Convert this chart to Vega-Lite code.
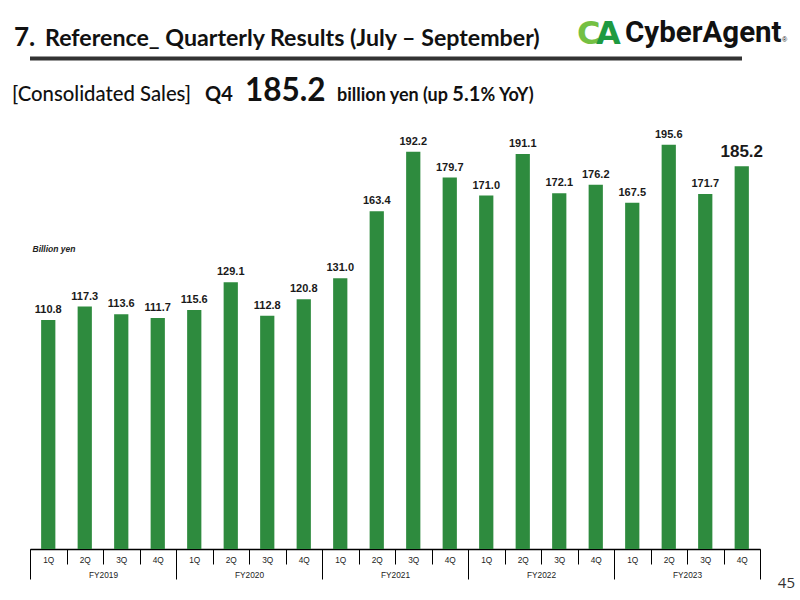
{
  "$schema": "https://vega.github.io/schema/vega-lite/v6.json",
  "width": 730,
  "height": 549,
  "autosize": {"type": "none"},
  "padding": {"left": 30, "top": 0, "right": 40, "bottom": 51},
  "background": "#ffffff",
  "config": {"view": {"stroke": null}},
  "datasets": {
    "sales": [
      {"period": "FY2019 1Q", "fy": "FY2019", "value": 110.8},
      {"period": "FY2019 2Q", "fy": "FY2019", "value": 117.3},
      {"period": "FY2019 3Q", "fy": "FY2019", "value": 113.6},
      {"period": "FY2019 4Q", "fy": "FY2019", "value": 111.7},
      {"period": "FY2020 1Q", "fy": "FY2020", "value": 115.6},
      {"period": "FY2020 2Q", "fy": "FY2020", "value": 129.1},
      {"period": "FY2020 3Q", "fy": "FY2020", "value": 112.8},
      {"period": "FY2020 4Q", "fy": "FY2020", "value": 120.8},
      {"period": "FY2021 1Q", "fy": "FY2021", "value": 131.0},
      {"period": "FY2021 2Q", "fy": "FY2021", "value": 163.4},
      {"period": "FY2021 3Q", "fy": "FY2021", "value": 192.2},
      {"period": "FY2021 4Q", "fy": "FY2021", "value": 179.7},
      {"period": "FY2022 1Q", "fy": "FY2022", "value": 171.0},
      {"period": "FY2022 2Q", "fy": "FY2022", "value": 191.1},
      {"period": "FY2022 3Q", "fy": "FY2022", "value": 172.1},
      {"period": "FY2022 4Q", "fy": "FY2022", "value": 176.2},
      {"period": "FY2023 1Q", "fy": "FY2023", "value": 167.5},
      {"period": "FY2023 2Q", "fy": "FY2023", "value": 195.6},
      {"period": "FY2023 3Q", "fy": "FY2023", "value": 171.7},
      {"period": "FY2023 4Q", "fy": "FY2023", "value": 185.2}
    ]
  },
  "layer": [
    {
      "layer": [
        {
          "data": {"name": "sales"},
          "mark": {"type": "bar", "width": {"band": 0.39}, "color": "#2e8b3e"},
          "encoding": {
            "x": {
              "field": "period", "type": "nominal", "sort": null,
              "scale": {"paddingInner": 0, "paddingOuter": 0},
              "axis": {
                "title": null,
                "labelExpr": "split(datum.value, ' ')[1]",
                "labelAngle": 0,
                "tickBand": "extent",
                "tickSize": 15,
                "tickColor": "#000000",
                "tickWidth": 1,
                "domainColor": "#000000",
                "domainWidth": 1.5,
                "labelFont": "Liberation Sans",
                "labelFontSize": 8.3,
                "labelColor": "#222222",
                "labelPadding": -9,
                "labelBaseline": "top"
              }
            },
            "y": {
              "field": "value", "type": "quantitative",
              "scale": {"domain": [0, 265.6], "nice": false, "zero": true},
              "axis": {
                "domain": false, "ticks": false, "labels": false, "grid": false,
                "title": "Billion yen",
                "titleAngle": 0,
                "titleX": 2,
                "titleY": 248,
                "titleAlign": "left",
                "titleBaseline": "middle",
                "titleFont": "Liberation Sans",
                "titleFontStyle": "italic",
                "titleFontWeight": "bold",
                "titleFontSize": 8.5,
                "titleColor": "#222222"
              }
            }
          }
        },
        {
          "data": {"name": "sales"},
          "transform": [{"filter": "datum.period != 'FY2023 4Q'"}],
          "mark": {"type": "text", "baseline": "alphabetic", "dy": -7, "font": "Liberation Sans", "fontWeight": "bold", "fontSize": 11, "color": "#1a1a1a"},
          "encoding": {
            "x": {"field": "period", "type": "nominal", "sort": null},
            "y": {"field": "value", "type": "quantitative"},
            "text": {"field": "value", "type": "quantitative", "format": ".1f"}
          }
        },
        {
          "data": {"name": "sales"},
          "transform": [{"filter": "datum.period == 'FY2023 4Q'"}],
          "mark": {"type": "text", "baseline": "alphabetic", "dy": -9.5, "font": "Liberation Sans", "fontWeight": "bold", "fontSize": 17, "color": "#1a1a1a"},
          "encoding": {
            "x": {"field": "period", "type": "nominal", "sort": null},
            "y": {"field": "value", "type": "quantitative"},
            "text": {"field": "value", "type": "quantitative", "format": ".1f"}
          }
        },
        {
          "data": {"values": [{}]},
          "mark": {"type": "text", "text": "7.", "align": "left", "baseline": "alphabetic", "dx": -34.25, "font": "Lato", "fontSize": 26, "fontWeight": "bold", "color": "#111111"},
          "encoding": {"x": {"datum": "FY2019 1Q"}, "y": {"datum": 243.3}}
        },
        {
          "data": {"values": [{}]},
          "mark": {"type": "text", "text": "Reference_ Quarterly Results (July – September)", "align": "left", "baseline": "alphabetic", "dx": -3.25, "font": "Lato", "fontSize": 23.2, "fontWeight": "bold", "color": "#111111"},
          "encoding": {"x": {"datum": "FY2019 1Q"}, "y": {"datum": 243.3}}
        },
        {
          "data": {"values": [{}]},
          "mark": {"type": "rule", "strokeWidth": 4, "color": "#333333", "xOffset": -18, "x2Offset": 30},
          "encoding": {"y": {"datum": 237.3}}
        },
        {
          "data": {"values": [{}]},
          "mark": {"type": "text", "text": "[Consolidated Sales]", "align": "left", "baseline": "alphabetic", "dx": -36.25, "font": "Lato", "fontSize": 20.3, "fontWeight": 500, "color": "#111111"},
          "encoding": {"x": {"datum": "FY2019 1Q"}, "y": {"datum": 216.7}}
        },
        {
          "data": {"values": [{}]},
          "mark": {"type": "text", "text": "Q4", "align": "left", "baseline": "alphabetic", "dx": 10.75, "font": "Lato", "fontSize": 20, "fontWeight": "bold", "color": "#111111"},
          "encoding": {"x": {"datum": "FY2020 1Q"}, "y": {"datum": 216.7}}
        },
        {
          "data": {"values": [{}]},
          "mark": {"type": "text", "text": "185.2", "align": "left", "baseline": "alphabetic", "dx": 14.25, "font": "Lato", "fontSize": 31.5, "fontWeight": "bold", "color": "#111111"},
          "encoding": {"x": {"datum": "FY2020 2Q"}, "y": {"datum": 216.7}}
        },
        {
          "data": {"values": [{}]},
          "mark": {"type": "text", "text": "billion yen (up", "align": "left", "baseline": "alphabetic", "dx": -3.25, "font": "Lato", "fontSize": 18, "fontWeight": "bold", "color": "#111111"},
          "encoding": {"x": {"datum": "FY2021 1Q"}, "y": {"datum": 216.7}}
        },
        {
          "data": {"values": [{}]},
          "mark": {"type": "text", "text": "5.1", "align": "right", "baseline": "alphabetic", "dx": 30.5, "font": "Lato", "fontSize": 20, "fontWeight": "bold", "color": "#111111"},
          "encoding": {"x": {"datum": "FY2021 4Q"}, "y": {"datum": 216.7}}
        },
        {
          "data": {"values": [{}]},
          "mark": {"type": "text", "text": "% YoY)", "align": "left", "baseline": "alphabetic", "dx": -5.75, "font": "Lato", "fontSize": 18, "fontWeight": "bold", "color": "#111111"},
          "encoding": {"x": {"datum": "FY2022 1Q"}, "y": {"datum": 216.7}}
        },
        {
          "data": {"values": [{}]},
          "mark": {"type": "text", "text": "C", "align": "left", "baseline": "alphabetic", "dx": -18.75, "font": "DejaVu Sans", "fontSize": 32, "fontWeight": "bold", "color": "#74c043"},
          "encoding": {"x": {"datum": "FY2022 4Q"}, "y": {"datum": 244.3}}
        },
        {
          "data": {"values": [{}]},
          "mark": {"type": "text", "text": "A", "align": "left", "baseline": "alphabetic", "dx": 0.25, "font": "DejaVu Sans", "fontSize": 32, "fontWeight": "bold", "color": "#1e9a40"},
          "encoding": {"x": {"datum": "FY2022 4Q"}, "y": {"datum": 244.3}}
        },
        {
          "data": {"values": [{}]},
          "mark": {"type": "text", "text": "CyberAgent", "align": "left", "baseline": "alphabetic", "dx": -7.25, "font": "Roboto", "fontSize": 29.5, "fontWeight": "bold", "color": "#111111"},
          "encoding": {"x": {"datum": "FY2023 1Q"}, "y": {"datum": 245.3}}
        },
        {
          "data": {"values": [{}]},
          "mark": {"type": "text", "text": "®", "align": "left", "baseline": "alphabetic", "dx": 40.25, "font": "Liberation Sans", "fontSize": 7, "color": "#111111"},
          "encoding": {"x": {"datum": "FY2023 4Q"}, "y": {"datum": 245.3}}
        },
        {
          "data": {"values": [{}]},
          "mark": {"type": "text", "text": "45", "align": "right", "baseline": "alphabetic", "dx": 53.25, "font": "Open Sans", "fontSize": 15, "color": "#333333"},
          "encoding": {"x": {"datum": "FY2023 4Q"}, "y": {"datum": -18.9}}
        }
      ]
    },
    {
      "data": {"name": "sales"},
      "mark": {"type": "point", "opacity": 0},
      "encoding": {
        "x": {
          "field": "fy", "type": "nominal",
          "scale": {"paddingInner": 0, "paddingOuter": 0},
          "axis": {
            "title": null,
            "orient": "bottom",
            "labelAngle": 0,
            "tickBand": "extent",
            "tickSize": 30,
            "tickColor": "#000000",
            "tickWidth": 1,
            "domain": false,
            "labelFont": "Liberation Sans",
            "labelFontSize": 8.3,
            "labelColor": "#222222",
            "labelPadding": -9,
            "labelBaseline": "top"
          }
        },
        "y": {"datum": 0}
      }
    }
  ],
  "resolve": {"scale": {"x": "independent"}, "axis": {"x": "independent"}}
}
